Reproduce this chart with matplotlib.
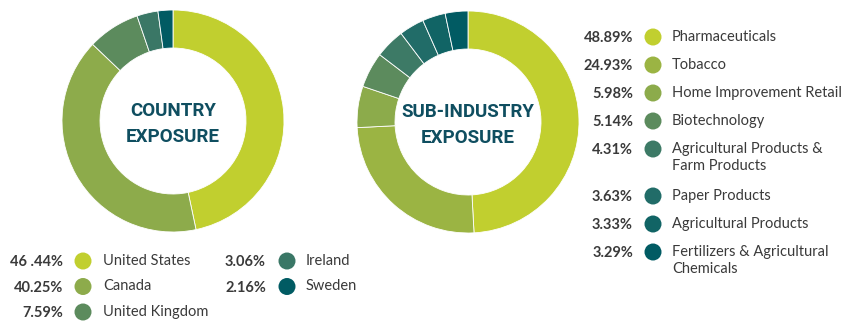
import matplotlib
matplotlib.use("Agg")
import matplotlib.pyplot as plt
from matplotlib.patches import Circle

# figure size in pixels
W, H = 844, 322

# country exposure
country_labels = ["United States", "Canada", "United Kingdom", "Ireland", "Sweden"]
country_values = [46.44, 40.25, 7.59, 3.06, 2.16]
country_text = ["46 .44%", "40.25%", "7.59%", "3.06%", "2.16%"]
country_colors = ["#c1cf2f", "#8dab4b", "#5c8b5d", "#3a7766", "#015b63"]

# sub-industry exposure
sub_labels = ["Pharmaceuticals", "Tobacco", "Home Improvement Retail", "Biotechnology",
              "Agricultural Products &\nFarm Products", "Paper Products",
              "Agricultural Products", "Fertilizers & Agricultural\nChemicals"]
sub_values = [48.89, 24.93, 5.98, 5.14, 4.31, 3.63, 3.33, 3.29]
sub_colors = ["#c1cf2f", "#9bb443", "#8cab4b", "#5c8b5d", "#3d7a66", "#216c68",
              "#116465", "#015b63"]

TITLE_COLOR = "#0f4e60"
TEXT_COLOR = "#3a3a3a"
LABEL_FONT = ["Lato", "DejaVu Sans"]
TITLE_FONT = ["Roboto", "DejaVu Sans"]

fig = plt.figure(figsize=(W / 100, H / 100), dpi=100)
ax = fig.add_axes([0, 0, 1, 1])


def Y(y):
    return H - y


def donut(values, colors, cx, cy, title):
    ax.pie(values, colors=colors, radius=111, center=(cx, Y(cy)), startangle=90,
           counterclock=False,
           wedgeprops=dict(width=38, edgecolor="white", linewidth=0.6))
    ax.text(cx, Y(cy + 3), title, ha="center", va="center", fontsize=13.5,
            fontweight="bold", color=TITLE_COLOR, family=TITLE_FONT,
            linespacing=1.6)


def legend_row(y, pct, label, color, x_pct, x_dot, x_lab):
    ax.text(x_pct, Y(y + 1), pct, ha="right", va="center", fontsize=10.5,
            fontweight="bold", color=TEXT_COLOR, family=LABEL_FONT)
    ax.add_patch(Circle((x_dot, Y(y)), 8.5, color=color, lw=0))
    ax.text(x_lab, Y(y) + 7, label, ha="left", va="top", fontsize=10.5,
            color=TEXT_COLOR, family=LABEL_FONT, linespacing=1.25)


donut(country_values, country_colors, 173, 121, "COUNTRY\nEXPOSURE")
donut(sub_values, sub_colors, 468, 122, "SUB-INDUSTRY\nEXPOSURE")

# country legend in two columns
for i, (lab, txt, col) in enumerate(zip(country_labels, country_text, country_colors)):
    if i < 3:
        legend_row(261 + i * 25.5, txt, lab, col, 63, 83, 103)
    else:
        legend_row(261 + (i - 3) * 25.5, txt, lab, col, 266, 287, 306)

# sub-industry legend, wrapped labels push later rows down
y = 37
for val, lab, col in zip(sub_values, sub_labels, sub_colors):
    legend_row(y, f"{val:.2f}%", lab, col, 633, 653, 672)
    y += 28 + 19 * lab.count("\n")

ax.set_xlim(0, W)
ax.set_ylim(0, H)
ax.set_aspect("equal")
ax.axis("off")

fig.savefig("out.png", dpi=100)
